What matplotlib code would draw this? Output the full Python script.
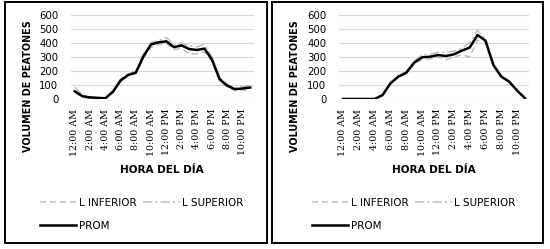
import matplotlib.pyplot as plt
from matplotlib.patches import Rectangle

hours = list(range(24))
tick_pos = list(range(0, 24, 2))
tick_labels = ['12:00 AM', '2:00 AM', '4:00 AM', '6:00 AM', '8:00 AM', '10:00 AM',
               '12:00 PM', '2:00 PM', '4:00 PM', '6:00 PM', '8:00 PM', '10:00 PM']

left_prom = [55, 20, 11, 8, 5, 52, 132, 172, 188, 305, 390, 405, 412, 370, 383, 357, 350, 360, 280, 140, 95, 70, 75, 82]
left_inf = [45, 12, 6, 4, 2, 42, 124, 166, 180, 290, 370, 388, 398, 352, 362, 322, 322, 338, 265, 130, 85, 62, 66, 52]
left_sup = [85, 28, 16, 11, 8, 60, 142, 182, 196, 322, 405, 418, 440, 386, 400, 382, 372, 392, 298, 152, 104, 80, 90, 95]

right_prom = [0, 0, 0, 0, 0, 28, 112, 160, 188, 260, 298, 302, 314, 307, 319, 345, 367, 457, 417, 243, 160, 124, 60, 5]
right_inf = [0, 0, 0, 0, 0, 24, 106, 154, 182, 250, 282, 286, 300, 280, 298, 318, 300, 420, 408, 238, 156, 120, 57, 3]
right_sup = [0, 0, 0, 0, 0, 32, 118, 166, 196, 272, 316, 322, 332, 334, 342, 362, 402, 490, 426, 248, 164, 128, 63, 7]

W, H = 550, 249
fig = plt.figure(figsize=(5.5, 2.49), dpi=100)

def fx(px):
    return px / W

def fy(py):
    return 1 - py / H

def panel(x0, x1, prom, inf, sup, box, lab_x, leg_x):
    ax = fig.add_axes([fx(x0), fy(99), fx(x1 - x0), 84 / H])
    l1, = ax.plot(hours, inf, color='#bfbfbf', lw=1.1, dashes=(4, 2.5), label='L INFERIOR')
    l2, = ax.plot(hours, sup, color='#bfbfbf', lw=1.1, dashes=(6, 2, 1.5, 2), label='L SUPERIOR')
    l3, = ax.plot(hours, prom, color='black', lw=1.8, label='PROM')
    ax.set_xlim(-0.5, 23.5)
    ax.set_ylim(0, 600)
    ax.set_yticks(range(0, 601, 100))
    ax.set_xticks(tick_pos)
    ax.set_xticklabels(tick_labels, rotation=90, family='DejaVu Serif', fontsize=6.8)
    ax.tick_params(axis='y', labelsize=7.3, length=0, pad=9)
    ax.tick_params(axis='x', length=0, pad=7)
    ax.grid(axis='y', color='#d9d9d9', lw=0.8)
    ax.set_axisbelow(True)
    for s in ax.spines.values():
        s.set_visible(False)
    fig.text(fx(box[0] + 23), fy(86), 'VOLUMEN DE PEATONES', rotation=90, fontsize=6.9,
             fontweight='bold', ha='center', va='center')
    fig.text(fx(lab_x), fy(170), 'HORA DEL DÍA', fontsize=7.5, fontweight='bold',
             ha='center', va='center')
    fig.legend([l1, l3, l2], ['L INFERIOR', 'PROM', 'L SUPERIOR'], ncol=2,
               loc='upper left', bbox_to_anchor=(fx(leg_x), fy(198)), frameon=False,
               fontsize=7.5, handlelength=3.5, handletextpad=0.2, columnspacing=0.7,
               labelspacing=1.2, borderpad=0, borderaxespad=0)
    fig.add_artist(Rectangle((fx(box[0]), fy(box[1])), fx(box[2] - box[0]), (box[1] - 2) / H,
                             transform=fig.transFigure, fill=False, lw=1.4, ec='black'))
    return ax

panel(71, 254, left_prom, left_inf, left_sup, (5, 243, 267), 162, 40)
panel(339, 529, right_prom, right_inf, right_sup, (272, 243, 543), 434, 312)

fig.savefig('out.png', dpi=100)
